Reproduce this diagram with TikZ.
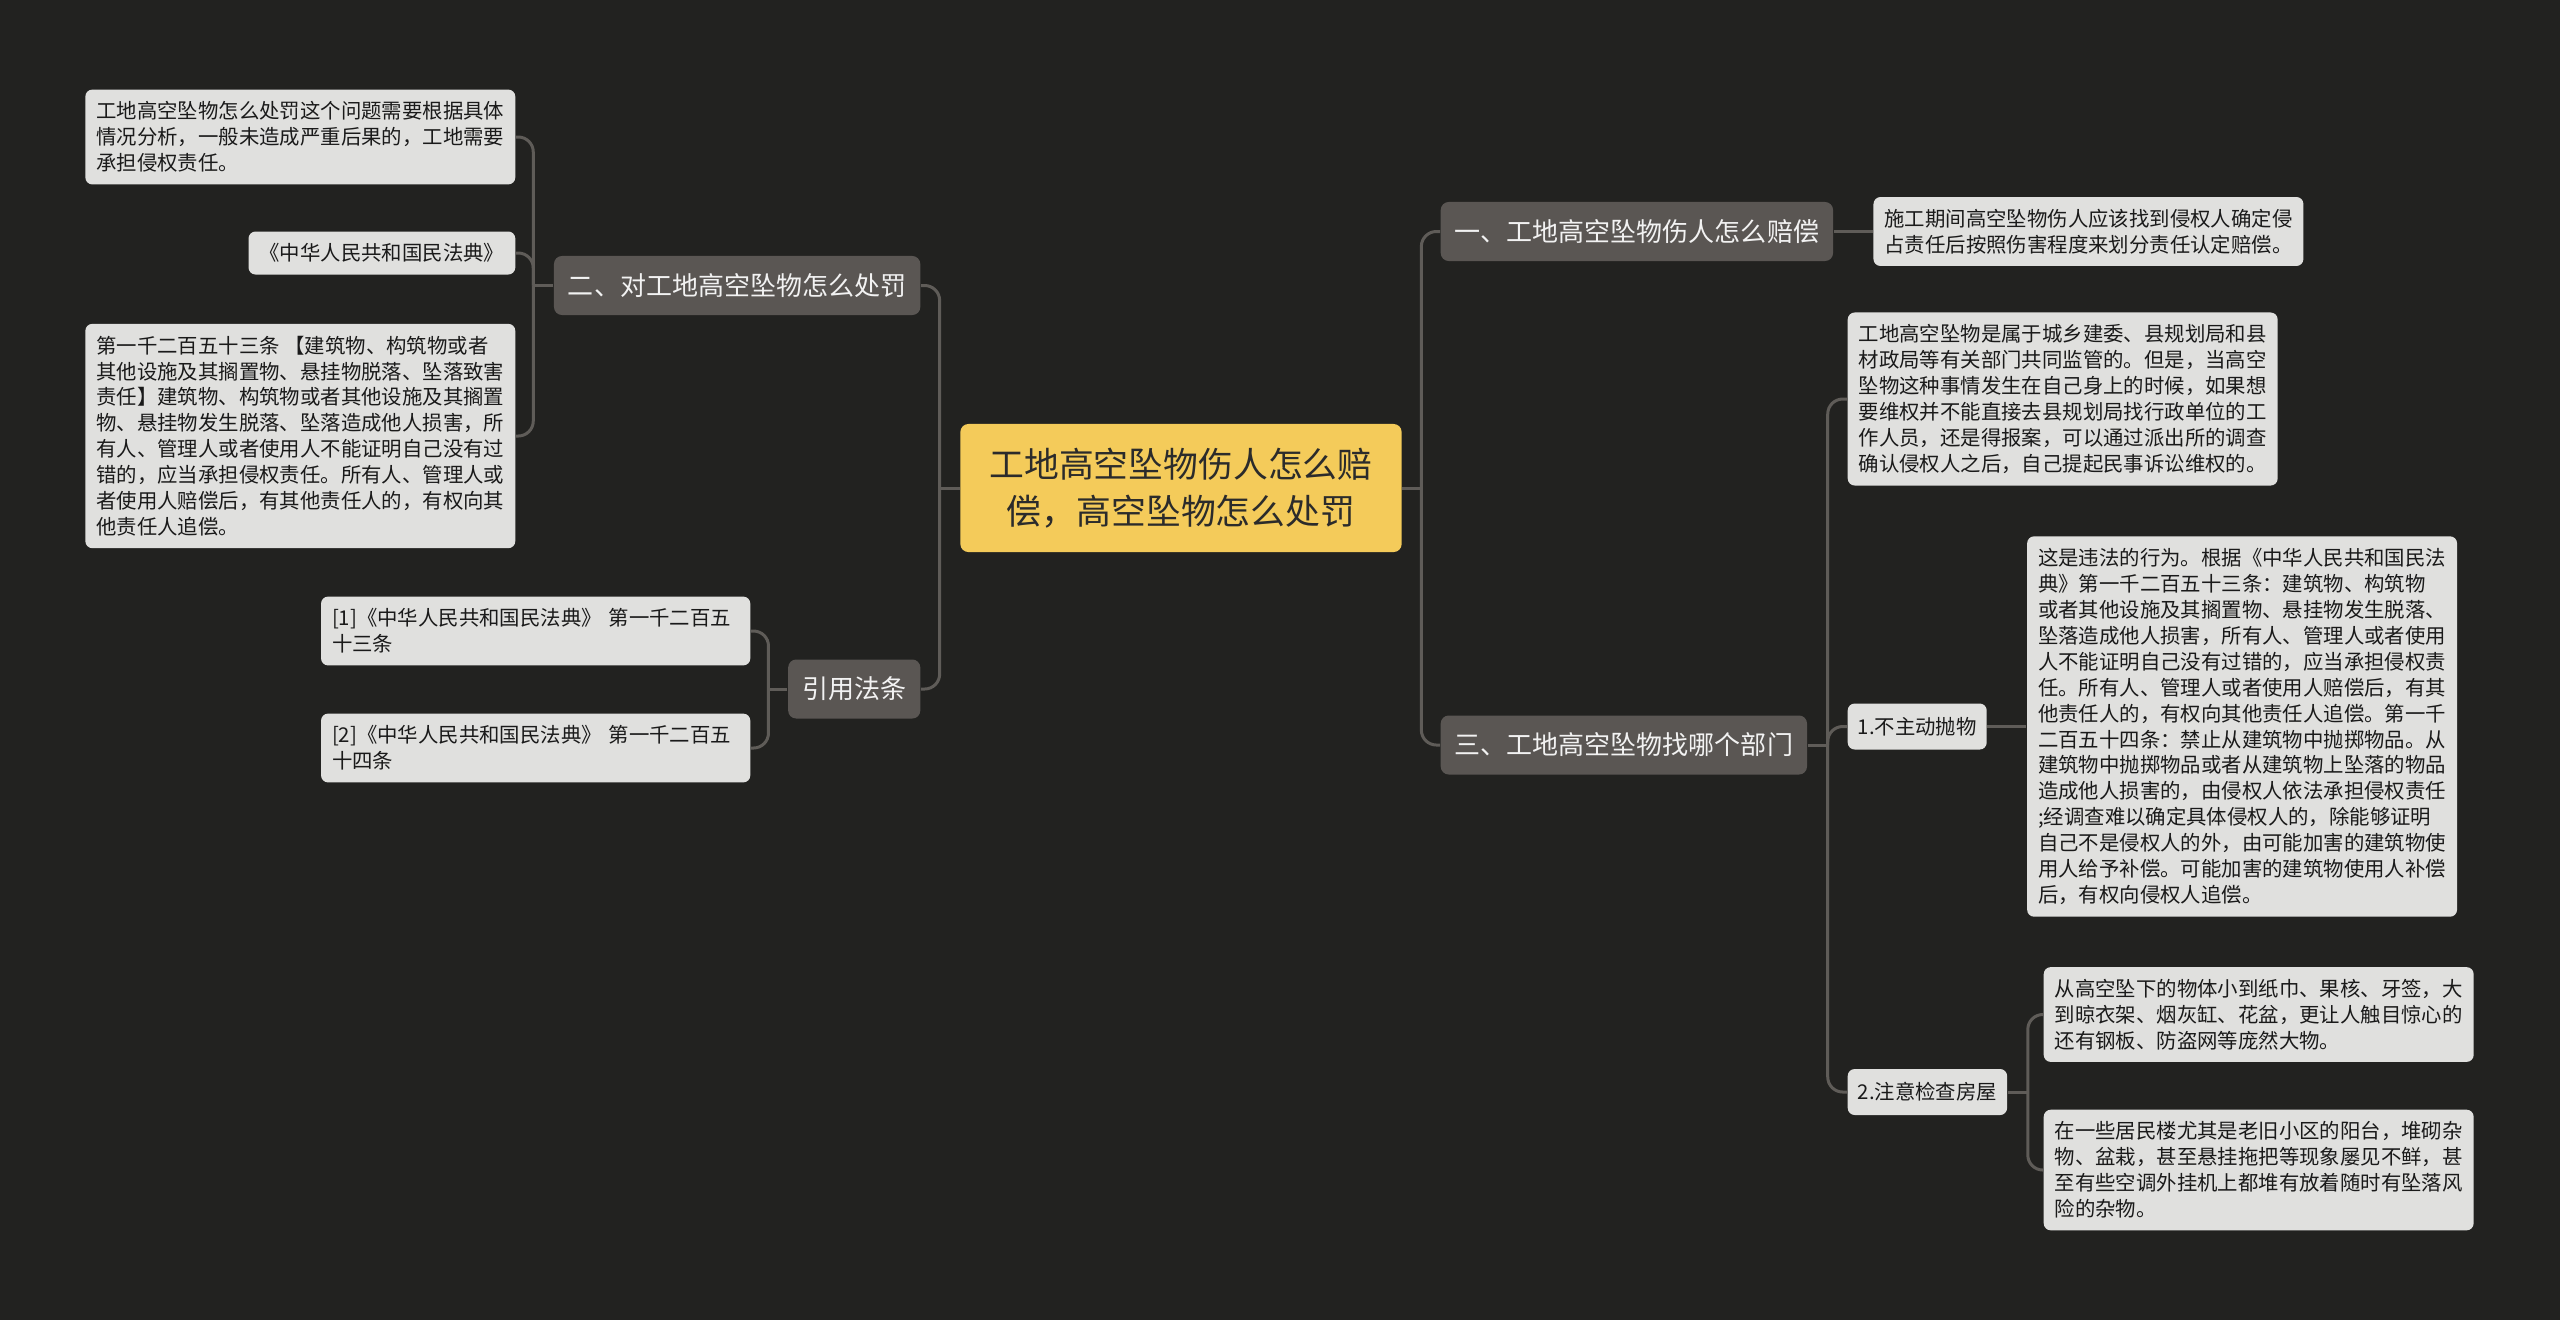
\documentclass[tikz,border=0pt]{standalone}
\usepackage{fontspec}
\usepackage{tikz}
\usetikzlibrary{positioning}
\newfontfamily\cjk{Noto Sans CJK SC}
\definecolor{bgdark}{HTML}{222220}
\definecolor{linkgray}{HTML}{5F5C58}
\definecolor{topicgray}{HTML}{5A5653}
\definecolor{topictext}{HTML}{F2F2F2}
\definecolor{notegray}{HTML}{E0E0DE}
\definecolor{notetext}{HTML}{1A1A1A}
\definecolor{centralfill}{HTML}{F4CB5A}
\definecolor{centraltext}{HTML}{2B2B2B}

\begin{document}
\begin{tikzpicture}[
    x=0.01cm, y=-0.01cm,
    node distance=0.39cm,
    central/.style={rounded corners=0.08cm, fill=centralfill, text=centraltext, font=\cjk\fontsize{9.9pt}{13.3pt}\selectfont, align=center, minimum width=4.41cm, minimum height=1.28cm},
    topic/.style={rounded corners=0.08cm, fill=topicgray, text=topictext, font=\cjk\fontsize{7.4pt}{9pt}\selectfont, minimum height=0.59cm, inner xsep=0.14cm},
    note/.style={rounded corners=0.07cm, fill=notegray, text=notetext, font=\cjk\fontsize{5.8pt}{7.37pt}\selectfont, align=left, inner xsep=0.11cm, inner ysep=0.12cm},
    subtopic/.style={note, minimum height=0.46cm, inner xsep=0.1cm, inner ysep=0.05cm},
    link/.style={draw=linkgray, line width=0.03cm, rounded corners=0.15cm}
  ]
  \fill[bgdark] (0,0) rectangle (2560,1320);

  \node (root) [central] at (1181,488) {工地高空坠物伤人怎么赔\\偿，高空坠物怎么处罚};

  \node (er) [topic, anchor=east] at (921,285.5) {二、对工地高空坠物怎么处罚};
  \node (yin) [topic, anchor=east] at (921,689) {引用法条};
  \node (yi) [topic, anchor=west] at (1440,231.5) {一、工地高空坠物伤人怎么赔偿};
  \node (san) [topic, anchor=west] at (1440,745) {三、工地高空坠物找哪个部门};

  \node (punish) [note, anchor=east] at (516,137) {工地高空坠物怎么处罚这个问题需要根据具体\\
    情况分析，一般未造成严重后果的，工地需要\\
    承担侵权责任。};
  \node (code) [note, anchor=east] at (516,253) {《中华人民共和国民法典》};
  \node (art) [note, anchor=east] at (516,436) {第一千二百五十三条 【建筑物、构筑物或者\\
    其他设施及其搁置物、悬挂物脱落、坠落致害\\
    责任】建筑物、构筑物或者其他设施及其搁置\\
    物、悬挂物发生脱落、坠落造成他人损害，所\\
    有人、管理人或者使用人不能证明自己没有过\\
    错的，应当承担侵权责任。所有人、管理人或\\
    者使用人赔偿后，有其他责任人的，有权向其\\
    他责任人追偿。};
  \node (ref1) [note, text width=4.07cm, anchor=east] at (751,631) {[1]《中华人民共和国民法典》 第一千二百五\\
    十三条};
  \node (ref2) [note, text width=4.07cm, anchor=east] at (751,748) {[2]《中华人民共和国民法典》 第一千二百五\\
    十四条};

  \node (pay) [note, right=of yi] {施工期间高空坠物伤人应该找到侵权人确定侵\\
    占责任后按照伤害程度来划分责任认定赔偿。};
  \node (dept) [note, anchor=west] at (1847,399) {工地高空坠物是属于城乡建委、县规划局和县\\
    材政局等有关部门共同监管的。但是，当高空\\
    坠物这种事情发生在自己身上的时候，如果想\\
    要维权并不能直接去县规划局找行政单位的工\\
    作人员，还是得报案，可以通过派出所的调查\\
    确认侵权人之后，自己提起民事诉讼维权的。};
  \node (throw) [subtopic, anchor=west] at (1847,726.5) {1.不主动抛物};
  \node (law) [note, right=of throw] {这是违法的行为。根据《中华人民共和国民法\\
    典》第一千二百五十三条：建筑物、构筑物\\
    或者其他设施及其搁置物、悬挂物发生脱落、\\
    坠落造成他人损害，所有人、管理人或者使用\\
    人不能证明自己没有过错的，应当承担侵权责\\
    任。所有人、管理人或者使用人赔偿后，有其\\
    他责任人的，有权向其他责任人追偿。第一千\\
    二百五十四条：禁止从建筑物中抛掷物品。从\\
    建筑物中抛掷物品或者从建筑物上坠落的物品\\
    造成他人损害的，由侵权人依法承担侵权责任\\
    ;经调查难以确定具体侵权人的，除能够证明\\
    自己不是侵权人的外，由可能加害的建筑物使\\
    用人给予补偿。可能加害的建筑物使用人补偿\\
    后，有权向侵权人追偿。};
  \node (check) [subtopic, anchor=west] at (1847,1092) {2.注意检查房屋};
  \node (falls) [note, anchor=west] at (2043,1014.5) {从高空坠下的物体小到纸巾、果核、牙签，大\\
    到晾衣架、烟灰缸、花盆，更让人触目惊心的\\
    还有钢板、防盗网等庞然大物。};
  \node (balcony) [note, anchor=west] at (2043,1170) {在一些居民楼尤其是老旧小区的阳台，堆砌杂\\
    物、盆栽，甚至悬挂拖把等现象屡见不鲜，甚\\
    至有些空调外挂机上都堆有放着随时有坠落风\\
    险的杂物。};

  \draw[link] (root.west) -- ++(-20,0) coordinate (lbus);
  \draw[link] (lbus) |- (er.east);
  \draw[link] (lbus) |- (yin.east);
  \draw[link] (root.east) -- ++(19,0) coordinate (rbus);
  \draw[link] (rbus) |- (yi.west);
  \draw[link] (rbus) |- (san.west);

  \draw[link] (er.west) -- ++(-20,0) coordinate (erbus);
  \draw[link] (erbus) |- (punish.east);
  \draw[link] (erbus) |- (code.east);
  \draw[link] (erbus) |- (art.east);
  \draw[link] (yin.west) -- ++(-19,0) coordinate (yinbus);
  \draw[link] (yinbus) |- (ref1.east);
  \draw[link] (yinbus) |- (ref2.east);

  \draw[link] (yi) -- (pay);
  \draw[link] (san.east) -- ++(20,0) coordinate (sanbus);
  \draw[link] (sanbus) |- (dept.west);
  \draw[link] (sanbus) |- (throw.west);
  \draw[link] (sanbus) |- (check.west);
  \draw[link] (throw) -- (law);
  \draw[link] (check.east) -- ++(20,0) coordinate (checkbus);
  \draw[link] (checkbus) |- (falls.west);
  \draw[link] (checkbus) |- (balcony.west);
\end{tikzpicture}
\end{document}
